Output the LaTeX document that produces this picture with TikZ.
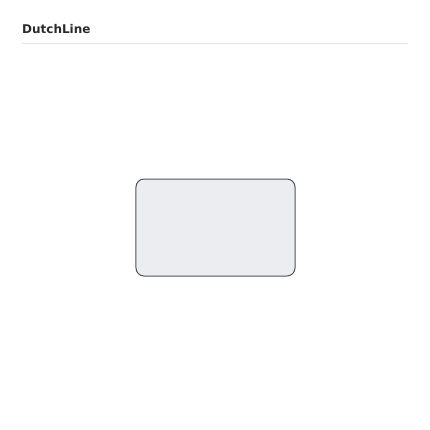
\documentclass[tikz,border=0pt]{standalone}
\usepackage{fontspec}
\setmainfont{DejaVu Sans}
\usetikzlibrary{positioning}

\definecolor{boxfill}{HTML}{ECEDF1}
\definecolor{boxdraw}{HTML}{505258}
\definecolor{rulegray}{HTML}{E2E2E4}
\definecolor{titlecol}{HTML}{2A2A2E}

\tikzset{
  heading/.style={font=\fontsize{12bp}{14bp}\selectfont\bfseries, text=titlecol, inner sep=0pt, anchor=west},
  lane/.style={draw=boxdraw, fill=boxfill, line width=1bp, rounded corners=8bp,
               minimum width=159bp, minimum height=97bp, inner sep=0pt}
}

\begin{document}
\begin{tikzpicture}[x=1bp,y=-1bp]
        \useasboundingbox (0,0) rectangle (430,430);
        \node[heading] (title) at (22,29) {DutchLine};
        \coordinate (rule left) at (22,43);
        \coordinate (rule right) at (408,43);
        \draw[rulegray, line width=1bp] (rule left) -- (rule right);
        \node[lane] (line) at (215.5,227.5) {};
\end{tikzpicture}
\end{document}
